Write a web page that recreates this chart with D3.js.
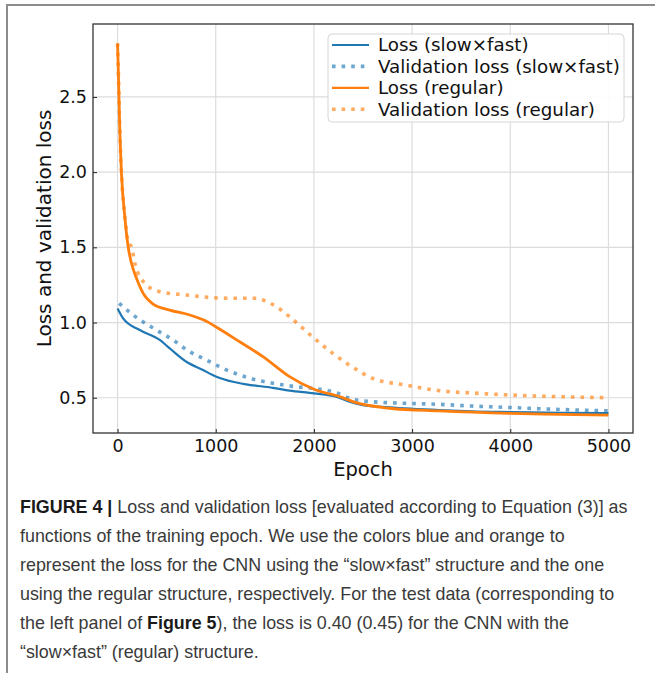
<!DOCTYPE html>
<html>
<head>
<meta charset="utf-8">
<script src="https://cdn.jsdelivr.net/npm/d3@7"></script>
<style>
    body { margin: 0; background: #fff; }
    svg { display: block; }
</style>
</head>
<body>
<script>
// values (epoch, loss)
let lossSlowFastEpochs = [0, 57, 227, 430, 532, 701, 871, 1007, 1176, 1312, 1582, 1752, 2000, 2227, 2362, 2498, 2770, 3278, 3600, 4000, 4500, 5000];
let lossSlowFastValues = [1.094, 1.028, 0.95, 0.884, 0.828, 0.739, 0.684, 0.64, 0.606, 0.589, 0.566, 0.547, 0.529, 0.507, 0.473, 0.451, 0.436, 0.418, 0.41, 0.405, 0.40, 0.397];

let valSlowFastEpochs = [16, 159, 396, 565, 735, 905, 1074, 1244, 1413, 1582, 1820, 2000, 2227, 2396, 2600, 2939, 3278, 3600, 4000, 4500, 5000];
let valSlowFastValues = [1.128, 1.05, 0.95, 0.884, 0.806, 0.751, 0.695, 0.651, 0.618, 0.596, 0.573, 0.562, 0.533, 0.489, 0.473, 0.463, 0.456, 0.445, 0.435, 0.422, 0.413];

let lossRegularEpochs = [0, 6, 23, 40, 74, 108, 142, 193, 261, 362, 532, 735, 900, 1000, 1244, 1481, 1752, 2000, 2261, 2430, 2770, 3278, 4000, 4500, 5000];
let lossRegularValues = [2.856, 2.723, 2.28, 1.992, 1.703, 1.504, 1.394, 1.294, 1.194, 1.123, 1.083, 1.05, 1.01, 0.972, 0.872, 0.773, 0.64, 0.556, 0.507, 0.467, 0.43, 0.412, 0.396, 0.39, 0.385];

let valRegularEpochs = [0, 6, 23, 40, 74, 110, 142, 176, 278, 430, 701, 1040, 1244, 1413, 1481, 1617, 1752, 1888, 2023, 2193, 2362, 2600, 2939, 3278, 3685, 4000, 4505, 5000];
let valRegularValues = [2.856, 2.723, 2.28, 1.992, 1.71, 1.53, 1.504, 1.394, 1.261, 1.205, 1.183, 1.163, 1.161, 1.161, 1.15, 1.105, 1.039, 0.961, 0.884, 0.795, 0.717, 0.629, 0.584, 0.547, 0.529, 0.518, 0.507, 0.5];

let seriesNames = ["Loss (slow\u00d7fast)", "Validation loss (slow\u00d7fast)", "Loss (regular)", "Validation loss (regular)"];
let xTicks = [0, 1000, 2000, 3000, 4000, 5000];
let yTicks = [0.5, 1.0, 1.5, 2.0, 2.5];

let captionLines = [
    [["FIGURE 4 | ", true], ["Loss and validation loss [evaluated according to Equation (3)] as", false]],
    [["functions of the training epoch. We use the colors blue and orange to", false]],
    [["represent the loss for the CNN using the \u201cslow\u00d7fast\u201d structure and the one", false]],
    [["using the regular structure, respectively. For the test data (corresponding to", false]],
    [["the left panel of ", false], ["Figure 5", true], ["), the loss is 0.40 (0.45) for the CNN with the", false]],
    [["\u201cslow\u00d7fast\u201d (regular) structure.", false]]
];

let margin = {top: 24, right: 22, bottom: 240, left: 93},
    width = 655 - margin.left - margin.right,
    height = 673 - margin.top - margin.bottom;

let zip = function (xs, ys) {
    return xs.map(function (x, i) { return {epoch: x, loss: ys[i]}; });
};

let series = [
    {name: seriesNames[0], values: zip(lossSlowFastEpochs, lossSlowFastValues), color: "#1f77b4", dotted: false, width: 2.2},
    {name: seriesNames[1], values: zip(valSlowFastEpochs, valSlowFastValues), color: "#1f77b4", dotted: true, width: 3.6},
    {name: seriesNames[2], values: zip(lossRegularEpochs, lossRegularValues), color: "#ff7f0e", dotted: false, width: 2.8},
    {name: seriesNames[3], values: zip(valRegularEpochs, valRegularValues), color: "#ff7f0e", dotted: true, width: 3.6}
];

let svgRoot = d3.select("body").append("svg")
    .attr("width", 655)
    .attr("height", 673);

// outer panel frame (left and top edges visible)
svgRoot.append("path")
    .attr("d", "M7,673 L7,5 L655,5")
    .attr("fill", "none")
    .attr("stroke", "#8c8c8c")
    .attr("stroke-width", 2);

let svg = svgRoot.append("g")
    .attr("transform", "translate(" + margin.left + "," + margin.top + ")");

let x = d3.scaleLinear()
    .domain([-250, 5250])
    .range([0, width]);

let y = d3.scaleLinear()
    .domain([0.2655, 2.985])
    .range([height, 0]);

// grid
svg.append("g")
    .selectAll("line.vgrid")
    .data(xTicks)
    .enter().append("line")
    .attr("x1", function (d) { return x(d); })
    .attr("x2", function (d) { return x(d); })
    .attr("y1", 0)
    .attr("y2", height)
    .attr("stroke", "#dcdcdc")
    .attr("stroke-width", 1.2);

svg.append("g")
    .selectAll("line.hgrid")
    .data(yTicks)
    .enter().append("line")
    .attr("x1", 0)
    .attr("x2", width)
    .attr("y1", function (d) { return y(d); })
    .attr("y2", function (d) { return y(d); })
    .attr("stroke", "#dcdcdc")
    .attr("stroke-width", 1.2);

svg.append("clipPath")
    .attr("id", "plot-clip")
    .append("rect")
    .attr("width", width)
    .attr("height", height);

let line = d3.line()
    .x(function (d) { return x(d.epoch); })
    .y(function (d) { return y(d.loss); })
    .curve(d3.curveMonotoneX);

let plot = svg.append("g").attr("clip-path", "url(#plot-clip)");

let drawOrder = [1, 0, 3, 2];
drawOrder.forEach(function (i) {
    let s = series[i];
    plot.append("path")
        .datum(s.values)
        .attr("d", line)
        .attr("fill", "none")
        .attr("stroke", s.color)
        .attr("stroke-opacity", s.dotted ? 0.65 : 1)
        .attr("stroke-width", s.width)
        .attr("stroke-dasharray", s.dotted ? "3.6 6" : null)
        .attr("stroke-linejoin", "round");
});

// axes, ticks pointing inwards
let xAxis = d3.axisBottom(x)
    .tickValues(xTicks)
    .tickSize(-4)
    .tickPadding(7)
    .tickFormat(d3.format("d"));

let yAxis = d3.axisLeft(y)
    .tickValues(yTicks)
    .tickSize(-4)
    .tickPadding(6)
    .tickFormat(d3.format(".1f"));

svg.append("g")
    .attr("class", "x axis")
    .attr("transform", "translate(0," + height + ")")
    .call(xAxis);

svg.append("g")
    .attr("class", "y axis")
    .call(yAxis);

svg.selectAll(".axis .domain").remove();
svg.selectAll(".axis line").attr("stroke", "#222").attr("stroke-width", 1);
svg.selectAll(".axis text")
    .attr("fill", "#111")
    .style("font-family", "DejaVu Sans")
    .style("font-size", "17.5px");

svg.append("rect")
    .attr("width", width)
    .attr("height", height)
    .attr("fill", "none")
    .attr("stroke", "#333")
    .attr("stroke-width", 1.3);

svg.append("text")
    .attr("x", width / 2)
    .attr("y", height + 43)
    .style("text-anchor", "middle")
    .style("font-family", "DejaVu Sans")
    .style("font-size", "19.5px")
    .attr("fill", "#111")
    .text("Epoch");

svg.append("text")
    .attr("transform", "rotate(-90)")
    .attr("x", -height / 2)
    .attr("y", -42)
    .style("text-anchor", "middle")
    .style("font-family", "DejaVu Sans")
    .style("font-size", "20px")
    .attr("fill", "#111")
    .text("Loss and validation loss");

//Legend
let legendBox = svg.append("g")
    .attr("transform", "translate(" + (328 - margin.left) + "," + (34 - margin.top) + ")");

legendBox.append("rect")
    .attr("width", 296)
    .attr("height", 88)
    .attr("rx", 4)
    .attr("fill", "#fff")
    .attr("fill-opacity", 0.9)
    .attr("stroke", "#d6d6d6")
    .attr("stroke-width", 1);

let legend = legendBox.selectAll(".legend")
    .data(series)
    .enter().append("g")
    .attr("class", "legend")
    .attr("transform", function (d, i) {
        return "translate(0," + (11 + i * 21.4) + ")";
    });

legend.append("line")
    .attr("x1", 4)
    .attr("x2", 41)
    .attr("y1", 0)
    .attr("y2", 0)
    .attr("stroke", function (d) { return d.color; })
    .attr("stroke-opacity", function (d) { return d.dotted ? 0.65 : 1; })
    .attr("stroke-width", function (d) { return d.dotted ? 3.6 : 2.2; })
    .attr("stroke-dasharray", function (d) { return d.dotted ? "3.6 6" : null; });

legend.append("text")
    .attr("x", 50)
    .attr("y", 0)
    .attr("dy", ".35em")
    .style("font-family", "DejaVu Sans")
    .style("font-size", "18.3px")
    .attr("fill", "#111")
    .text(function (d) { return d.name; });

// caption: one horizontal squeeze for all lines, set so the first line spans the figure width
let caption = svgRoot.append("g");
let captionTexts = captionLines.map(function (parts, i) {
    let t = caption.append("text")
        .attr("x", 0)
        .attr("y", 0)
        .style("font-family", "'Liberation Sans', sans-serif")
        .style("font-size", "17.5px");
    parts.forEach(function (p) {
        t.append("tspan")
            .attr("font-weight", p[1] ? "bold" : "normal")
            .attr("fill", p[1] ? "#1a1a1a" : "#3a3a3a")
            .text(p[0]);
    });
    return t;
});
let squeeze = 608 / captionTexts[0].node().getComputedTextLength();
captionTexts.forEach(function (t, i) {
    t.attr("transform", "translate(20," + (513 + i * 29) + ") scale(" + squeeze + ",1)");
});
</script>
</body>
</html>
